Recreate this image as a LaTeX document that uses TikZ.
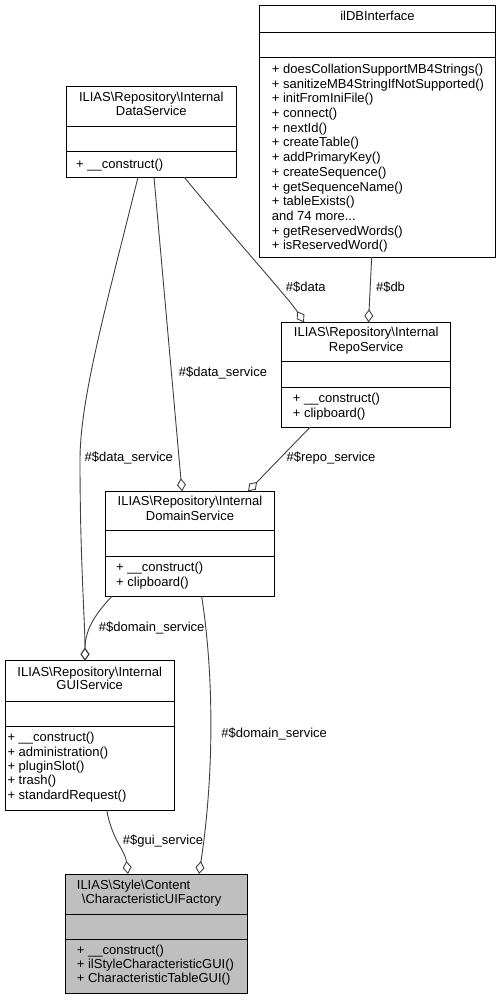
\documentclass[tikz,border=0pt]{standalone}
\usepackage{fontspec}
\setmainfont{Liberation Sans}
\usetikzlibrary{arrows.meta}
\definecolor{edgegray}{HTML}{404040}
\definecolor{hlgray}{HTML}{BFBFBF}
\tikzset{
  umlbox/.style={draw=black, line width=0.9pt, inner sep=0pt, outer sep=0pt, anchor=north west},
  txt/.style={font=\fontsize{13}{14.6}\selectfont, inner sep=0pt, text height=9.4pt, text depth=2.8pt},
  rel/.style={draw=edgegray, line width=0.9pt, -{Diamond[open, length=13pt, width=9pt]}},
  lbl/.style={txt},
}
\newcommand\mkbox[8]{% name, x, y, w, h, sep1, sep2, fill
  \node[umlbox, fill=#8, minimum width=#4pt, minimum height=#5pt] (#1) at (#2,#3) {};
  \draw[line width=0.9pt] (#2,#6) -- ({#2+#4},#6);
  \draw[line width=0.9pt] (#2,#7) -- ({#2+#4},#7);
}
\newcommand\mkmembers[5]{% name, x, first baseline, step, list
  \foreach \mline [count=\i from 0] in {#5}
    \node[txt, anchor=base west] (#1-\i) at (#2, {#3+\i*#4}) {\mline};
}
\begin{document}
\begin{tikzpicture}[x=1pt,y=-1pt]
\fill[white] (0,0) rectangle (501,1000);
\useasboundingbox (0,0) rectangle (501,1000);

% ilDBInterface
\mkbox{db}{259.3}{5}{236.4}{252}{32}{57}{white}
\node[txt] (db-title) at (377.5,17.5) {ilDBInterface};
\mkmembers{dbm}{271.7}{73.3}{14.72}{+ doesCollationSupportMB4Strings(),+ sanitizeMB4StringIfNotSupported(),+ initFromIniFile(),+ connect(),+ nextId(),+ createTable(),+ addPrimaryKey(),+ createSequence(),+ getSequenceName(),+ tableExists(),{and 74 more.{}.{}.},+ getReservedWords(),+ isReservedWord()}

% DataService
\mkbox{ds}{66.7}{86.7}{169.3}{90.6}{126.7}{151.7}{white}
\node[txt] (ds-t1) at (151.3,98.3) {ILIAS\textbackslash Repository\textbackslash Internal};
\node[txt] (ds-t2) at (151.3,112.7) {DataService};
\mkmembers{dsm}{76}{168.3}{14.6}{+ \_\_construct()}

% RepoService
\mkbox{repo}{281.7}{322.3}{169}{104.7}{361.7}{387.3}{white}
\node[txt] (repo-t1) at (366.2,333.3) {ILIAS\textbackslash Repository\textbackslash Internal};
\node[txt] (repo-t2) at (366.2,348.3) {RepoService};
\mkmembers{repom}{292.7}{402}{15}{+ \_\_construct(),+ clipboard()}

% DomainService
\mkbox{dom}{105.3}{491.3}{169.4}{105}{530.7}{556.7}{white}
\node[txt] (dom-t1) at (190,502.3) {ILIAS\textbackslash Repository\textbackslash Internal};
\node[txt] (dom-t2) at (190,517.3) {DomainService};
\mkmembers{domm}{116}{571.6}{14.4}{+ \_\_construct(),+ clipboard()}

% GUIService
\mkbox{gui}{5}{660.7}{169.3}{149.3}{701}{726}{white}
\node[txt] (gui-t1) at (89.7,672.7) {ILIAS\textbackslash Repository\textbackslash Internal};
\node[txt] (gui-t2) at (89.7,686) {GUIService};
\mkmembers{guim}{7.3}{741.6}{14.43}{+ \_\_construct(),+ administration(),+ pluginSlot(),+ trash(),+ standardRequest()}

% CharacteristicUIFactory
\mkbox{uif}{65}{874}{182.7}{119.3}{914}{939.3}{hlgray}
\node[txt, anchor=west] (uif-t1) at (76.7,886) {ILIAS\textbackslash Style\textbackslash Content};
\node[txt, anchor=west] (uif-t2) at (81.7,900) {\textbackslash CharacteristicUIFactory};
\mkmembers{uifm}{76.7}{954.3}{14.2}{+ \_\_construct(),+ ilStyleCharacteristicGUI(),+ CharacteristicTableGUI()}

% connectors
\draw[rel] ([xshift=71.3pt]ds.south west) .. controls (105,310) and (80,400) .. (80,460)
           .. controls (80,560) and (85,620) .. ([xshift=80pt]gui.north west);
\draw[rel] ([xshift=87.3pt]ds.south west) -- ([xshift=76.7pt]dom.north west);
\draw[rel] ([xshift=117.6pt]ds.south west) .. controls (240,245) and (290,300) .. ([xshift=22.3pt]repo.north west);
\draw[rel] ([xshift=112.4pt]db.south west) -- ([xshift=86.8pt]repo.north west);
\draw[rel] ([xshift=28.6pt]repo.south west) -- ([xshift=142.7pt]dom.north west);
\draw[rel] ([xshift=6.7pt]dom.south west) .. controls (95,614) and (85,630) .. ([xshift=80pt]gui.north west);
\draw[rel] ([xshift=96.4pt]dom.south west) .. controls (216,690) and (212,790) .. ([xshift=134pt]uif.north west);
\draw[rel] ([xshift=101.7pt]gui.south west) .. controls (112,840) and (125,850) .. ([xshift=63pt]uif.north west);

% labels
\node[lbl] (l-ds1) at (128.8,458.3) {\#\$data\_service};
\node[lbl] (l-ds2) at (223,373.3) {\#\$data\_service};
\node[lbl] (l-data) at (305.8,288.3) {\#\$data};
\node[lbl] (l-db) at (390.5,288.3) {\#\$db};
\node[lbl] (l-repo) at (331,458.3) {\#\$repo\_service};
\node[lbl] (l-dom1) at (151.7,627.7) {\#\$domain\_service};
\node[lbl] (l-dom2) at (274.2,734.3) {\#\$domain\_service};
\node[lbl] (l-gui) at (163,840.7) {\#\$gui\_service};
\end{tikzpicture}
\end{document}
